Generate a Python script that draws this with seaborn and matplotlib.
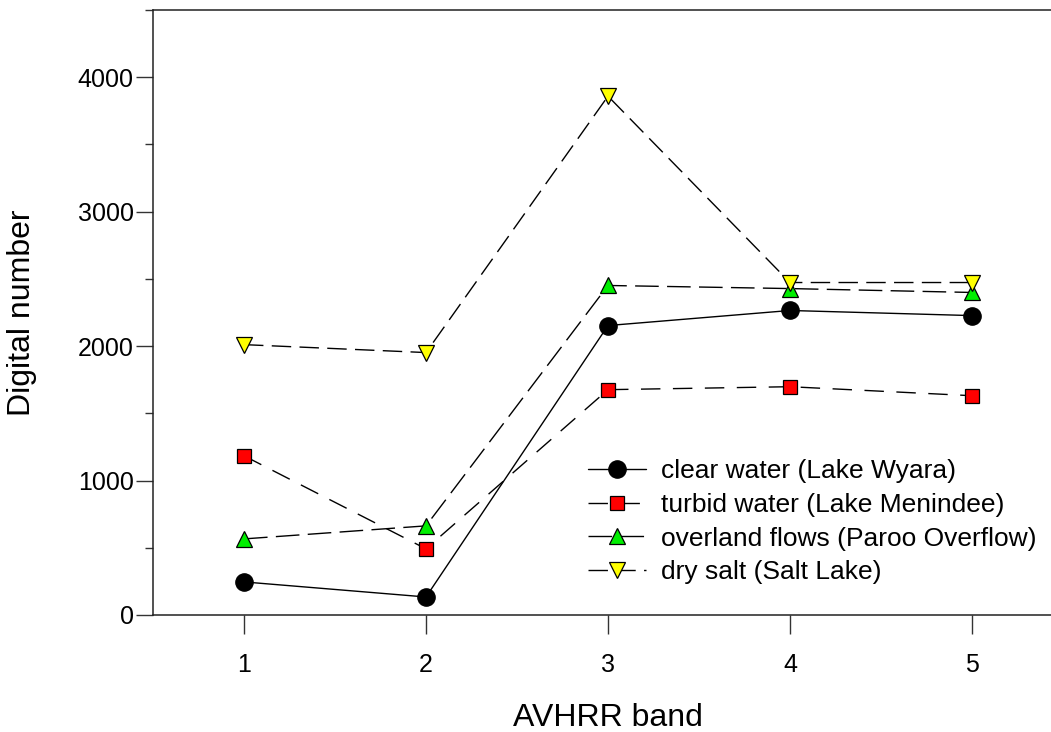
import matplotlib
matplotlib.use("Agg")
import matplotlib.pyplot as plt
import seaborn as sns
import numpy as np
from matplotlib.ticker import MultipleLocator, FixedLocator

sns.set_theme(style="white")
plt.rcParams['font.family'] = ['Liberation Sans', 'DejaVu Sans']
plt.rcParams['text.color'] = 'black'
plt.rcParams['xtick.color'] = 'black'
plt.rcParams['ytick.color'] = 'black'

bands = [1, 2, 3, 4, 5]
labels = ["clear water (Lake Wyara)", "turbid water (Lake Menindee)",
          "overland flows (Paroo Overflow)", "dry salt (Salt Lake)"]
clear_water = [246, 134, 2153, 2265, 2227]
turbid_water = [1184, 492, 1676, 1698, 1631]
overland_flows = [566, 663, 2451, 2428, 2399]
dry_salt = [2011, 1952, 3859, 2473, 2473]
series = [clear_water, turbid_water, overland_flows, dry_salt]
markers = ["o", "s", "^", "v"]
facecolors = ["black", "#ff0000", "#00ee00", "#ffff00"]
msizes = [12.5, 10.5, 11.5, 11.5]
linestyles = ["-", (0, (14, 9)), (0, (17, 6)), (0, (14, 6))]

fig = plt.figure(figsize=(10.51, 7.32), dpi=100)
ax = fig.add_axes([153/1051, 117/732, 910/1051, 605/732])

for vals, lab, m, fc, ms, ls in zip(series, labels, markers, facecolors, msizes, linestyles):
    sns.lineplot(x=bands, y=vals, ax=ax, color="black", linewidth=1.0,
                 marker=m, markersize=ms, markerfacecolor=fc,
                 markeredgecolor="black", markeredgewidth=0.9,
                 linestyle=ls, label=lab)

ax.set_xlim(0.5, 5.5)
ax.set_ylim(0, 4500)
ax.xaxis.set_major_locator(FixedLocator(bands))
ax.yaxis.set_major_locator(MultipleLocator(1000))
ax.yaxis.set_minor_locator(FixedLocator([500, 1500, 2500, 3500, 4500]))

ax.spines["right"].set_visible(False)
for s in ["left", "bottom", "top"]:
    ax.spines[s].set_visible(True)
    ax.spines[s].set_color("#222222")
    ax.spines[s].set_linewidth(1.1)

ax.tick_params(axis="x", which="major", direction="out", length=14, width=1.0,
               pad=13, labelsize=18, color="#333333", labelcolor="black", bottom=True)
ax.tick_params(axis="y", which="major", direction="out", length=12, width=1.0,
               pad=2, labelsize=18, color="#333333", labelcolor="black", left=True)
ax.tick_params(axis="y", which="minor", direction="out", length=6, width=1.0,
               color="#333333", left=True)
ax.grid(False)

fig.text(22/1051, 1 - 313/732, "Digital number", rotation=90, ha="center",
         va="center", fontsize=23, color="black")
fig.text(608/1051, 1 - 718/732, "AVHRR band", ha="center", va="center",
         fontsize=23, color="black")
ax.set_xlabel("")
ax.set_ylabel("")

leg = ax.legend(loc="upper left", bbox_to_anchor=(588/1051, 1 - 459/732),
                bbox_transform=fig.transFigure, frameon=False, fontsize=19,
                handlelength=2.2, handletextpad=0.55, labelspacing=0.37,
                borderpad=0, borderaxespad=0)
for t in leg.get_texts():
    t.set_color("black")

fig.savefig("out.png", dpi=100)
